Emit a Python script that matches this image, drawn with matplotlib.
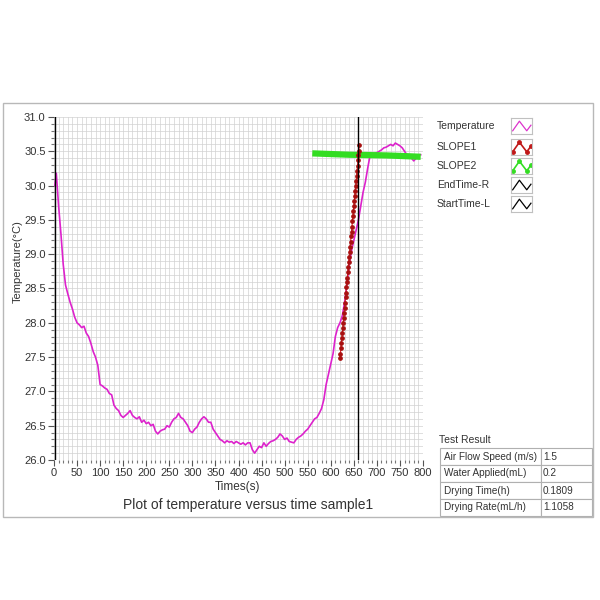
import matplotlib
matplotlib.use('Agg')
import matplotlib.pyplot as plt
from matplotlib.patches import Rectangle
from matplotlib.ticker import MultipleLocator

# temperature curve (time in s, temperature in degC)
time_s = [2, 5, 10, 15, 20, 25, 30, 35, 40, 45, 50, 55, 60, 65, 70, 75, 80, 85, 90, 95,
          100, 105, 110, 115, 120, 125, 130, 135, 140, 145, 150, 155, 160, 165, 170, 175,
          180, 185, 190, 195, 200, 205, 210, 215, 220, 225, 230, 235, 240, 245, 250, 255,
          260, 265, 270, 275, 280, 285, 290, 295, 300, 305, 310, 315, 320, 325, 330, 335,
          340, 345, 350, 355, 360, 365, 370, 375, 380, 385, 390, 395, 400, 405, 410, 415,
          420, 425, 430, 435, 440, 445, 450, 455, 460, 465, 470, 475, 480, 485, 490, 495,
          500, 505, 510, 515, 520, 525, 530, 535, 540, 545, 550, 555, 560, 565, 570, 575,
          580, 585, 590, 595, 600, 605, 610, 615, 620, 625, 630, 635, 640, 645, 650, 655,
          660, 665, 670, 675, 680, 685, 690, 695, 700, 705, 710, 715, 720, 725, 730, 735,
          740, 745, 750, 755, 760, 765, 770, 775, 780, 785, 790, 795]
temperature = [30.0, 30.18, 29.7, 29.3, 28.85, 28.55, 28.42, 28.3, 28.2, 28.08, 28.0, 27.97,
               27.93, 27.95, 27.85, 27.8, 27.7, 27.58, 27.5, 27.38, 27.1, 27.08, 27.05, 27.03,
               26.97, 26.95, 26.8, 26.75, 26.72, 26.65, 26.62, 26.65, 26.68, 26.72, 26.65,
               26.62, 26.6, 26.63, 26.55, 26.58, 26.53, 26.55, 26.5, 26.52, 26.42, 26.38,
               26.42, 26.44, 26.45, 26.5, 26.48, 26.55, 26.6, 26.62, 26.68, 26.62, 26.6,
               26.55, 26.5, 26.42, 26.4, 26.45, 26.48, 26.55, 26.6, 26.63, 26.6, 26.55,
               26.55, 26.45, 26.4, 26.35, 26.3, 26.28, 26.25, 26.28, 26.26, 26.27, 26.24,
               26.27, 26.25, 26.23, 26.25, 26.22, 26.25, 26.25, 26.15, 26.1, 26.15, 26.2,
               26.18, 26.25, 26.2, 26.24, 26.27, 26.28, 26.3, 26.33, 26.38, 26.35, 26.3,
               26.32, 26.27, 26.26, 26.25, 26.3, 26.33, 26.35, 26.38, 26.42, 26.45, 26.5,
               26.55, 26.6, 26.62, 26.68, 26.75, 26.88, 27.1, 27.25, 27.4, 27.55, 27.8,
               27.93, 28.0, 28.1, 28.3, 28.55, 28.85, 29.05, 29.2, 29.35, 29.5, 29.7, 29.9,
               30.05, 30.25, 30.43, 30.46, 30.47, 30.48, 30.5, 30.52, 30.55, 30.56, 30.58,
               30.6, 30.58, 30.62, 30.6, 30.58, 30.55, 30.5, 30.45, 30.42, 30.4, 30.36,
               30.4, 30.45, 30.45]

# SLOPE1 fit (red dots), one per second
slope1_time = list(range(620, 663))
slope1_temp = [27.48, 27.55, 27.63, 27.70, 27.78, 27.85, 27.92, 28.00, 28.07, 28.15, 28.22,
               28.29, 28.37, 28.44, 28.52, 28.59, 28.66, 28.74, 28.81, 28.89, 28.96, 29.03,
               29.11, 29.18, 29.26, 29.33, 29.40, 29.48, 29.55, 29.63, 29.70, 29.77, 29.85,
               29.92, 30.00, 30.07, 30.14, 30.22, 30.29, 30.37, 30.44, 30.51, 30.59]

# SLOPE2 fit (green)
slope2_time = [560, 600, 640, 680, 720, 760, 795]
slope2_temp = [30.47, 30.46, 30.45, 30.445, 30.44, 30.43, 30.42]

start_time = 2
end_time = 660

legend_names = ['Temperature', 'SLOPE1', 'SLOPE2', 'EndTime-R', 'StartTime-L']
legend_colors = ['#dd33cc', '#c01818', '#33dd22', 'black', 'black']

result_labels = ['Air Flow Speed (m/s)', 'Water Applied(mL)', 'Drying Time(h)', 'Drying Rate(mL/h)']
result_values = ['1.5', '0.2', '0.1809', '1.1058']

plt.rcParams['font.family'] = ['Liberation Sans', 'DejaVu Sans']

W = 600.0
fig = plt.figure(figsize=(6, 6), dpi=100)
txt = '#333333'

# outer frame
fig.patches.append(Rectangle((3 / W, 1 - 517 / W), 590 / W, 414 / W, transform=fig.transFigure,
                             fill=False, edgecolor='#b8b8b8', linewidth=1))

ax = fig.add_axes([54 / W, 140 / W, 369 / W, 343 / W])
ax.plot(time_s, temperature, '-', color='#dd22cc', linewidth=1.2)
ax.plot(slope2_time, slope2_temp, '-', color='#33dd22', linewidth=4.5, solid_capstyle='butt')
ax.plot(slope1_time, slope1_temp, '-', color='#e02020', linewidth=0.8,
        marker='o', markersize=2.4, markerfacecolor='#a81010', markeredgecolor='#a81010')
ax.axvline(end_time, color='black', linewidth=1)
ax.axvline(start_time, color='black', linewidth=1)

ax.set_xlim(0, 800)
ax.set_ylim(26.0, 31.0)
ax.xaxis.set_major_locator(MultipleLocator(50))
ax.xaxis.set_minor_locator(MultipleLocator(10))
ax.yaxis.set_major_locator(MultipleLocator(0.5))
ax.yaxis.set_minor_locator(MultipleLocator(0.1))
ax.yaxis.set_major_formatter(plt.FormatStrFormatter('%.1f'))
ax.grid(True, which='both', color='#d2d2d2', linewidth=0.5)
ax.set_axisbelow(True)
for s in ax.spines.values():
    s.set_visible(False)
ax.tick_params(which='major', length=4, width=0.8, color='#555555', labelsize=8, labelcolor=txt, pad=2)
ax.tick_params(which='minor', length=2, width=0.8, color='#777777')

fig.text(18 / W, 1 - 262 / W, 'Temperature(°C)', rotation=90, ha='center', va='center',
         fontsize=8, color=txt)
fig.text(238 / W, 1 - 487 / W, 'Times(s)', ha='center', va='center', fontsize=8.5, color=txt)
fig.text(248 / W, 1 - 505 / W, 'Plot of temperature versus time sample1', ha='center',
         va='center', fontsize=10, color=txt)

# legend rows with small icon boxes
rows_y = [126, 147, 166, 185, 204]
for name, col, y in zip(legend_names, legend_colors, rows_y):
    fig.text(437 / W, 1 - y / W, name, ha='left', va='center', fontsize=7.5, color=txt)
    ia = fig.add_axes([511 / W, 1 - (y + 8) / W, 21 / W, 16 / W])
    ia.set_xlim(0, 1)
    ia.set_ylim(0, 1)
    ia.set_xticks([])
    ia.set_yticks([])
    for s in ia.spines.values():
        s.set_color('#c0c0c0')
        s.set_linewidth(0.8)
    zx = [0.08, 0.4, 0.75, 0.95]
    zy = [0.2, 0.8, 0.2, 0.55]
    if name.startswith('SLOPE'):
        ia.plot(zx, zy, '-', color=col, linewidth=1.2, marker='o', markersize=2.5)
    else:
        ia.plot(zx, zy, '-', color=col, linewidth=0.9)

# test result table
fig.text(439 / W, 1 - 440 / W, 'Test Result', ha='left', va='center', fontsize=7.5, color=txt)
ta = fig.add_axes([440 / W, 1 - 516 / W, 152 / W, 68 / W])
ta.axis('off')
tbl = ta.table(cellText=[[a, b] for a, b in zip(result_labels, result_values)],
               colWidths=[101 / 152, 51 / 152], bbox=[0, 0, 1, 1], cellLoc='left')
tbl.auto_set_font_size(False)
tbl.set_fontsize(7.2)
for cell in tbl.get_celld().values():
    cell.set_edgecolor('#b0b0b0')
    cell.set_linewidth(0.8)
    cell.get_text().set_color(txt)
    cell.PAD = 0.04

fig.savefig('out.png', dpi=100)
